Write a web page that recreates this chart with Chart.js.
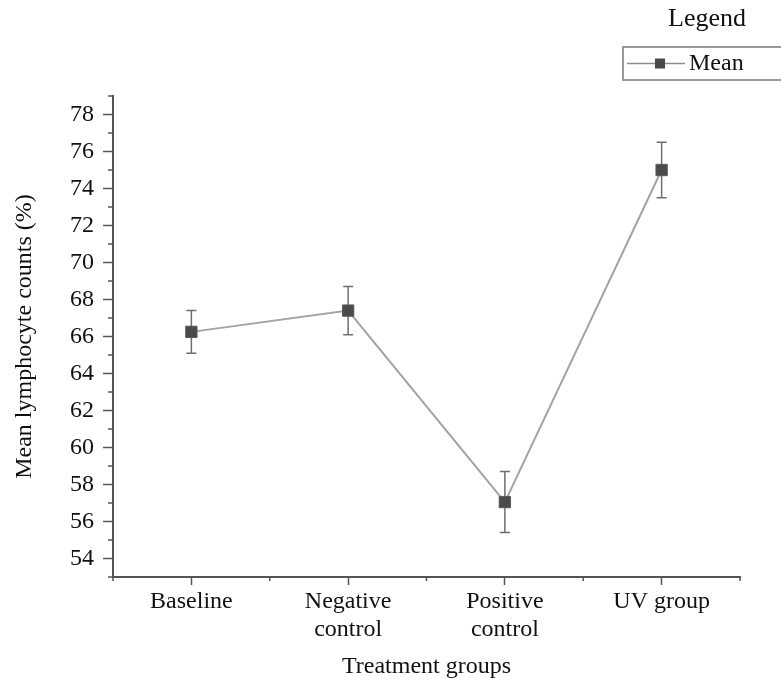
<!DOCTYPE html>
<html>
<head>
<meta charset="utf-8">
<script src="https://cdn.jsdelivr.net/npm/chart.js@4"></script>
<style>
  html, body { margin: 0; padding: 0; background: #fff; }
  #wrap { width: 781px; height: 684px; }
</style>
</head>
<body>
<div id="wrap"><canvas id="grafico"></canvas></div>
<script>
const grupos = [['Baseline'], ['Negative', 'control'], ['Positive', 'control'], ['UV group']];
const medias = [66.25, 67.4, 57.05, 75.0];
const errores = [1.15, 1.3, 1.65, 1.5];
const ticksY = [54, 56, 58, 60, 62, 64, 66, 68, 70, 72, 74, 76, 78];
const yMin = 53;
const yMax = 79;

const fuente = '"Liberation Serif", "Times New Roman", serif';

// barras de error, ticks menores y leyenda
const extras = {
  id: 'extras',
  beforeDatasetsDraw(chart) {
    const { ctx } = chart;
    const x = chart.scales.x;
    const y = chart.scales.y;
    ctx.save();
    ctx.strokeStyle = '#6e6e6e';
    ctx.lineWidth = 1.5;
    medias.forEach((m, i) => {
      const px = x.getPixelForValue(i);
      const top = y.getPixelForValue(m + errores[i]);
      const bot = y.getPixelForValue(m - errores[i]);
      ctx.beginPath();
      ctx.moveTo(px, top); ctx.lineTo(px, bot);
      ctx.moveTo(px - 5, top); ctx.lineTo(px + 5, top);
      ctx.moveTo(px - 5, bot); ctx.lineTo(px + 5, bot);
      ctx.stroke();
    });
    ctx.restore();
  },
  afterDraw(chart) {
    const { ctx } = chart;
    const x = chart.scales.x;
    const y = chart.scales.y;
    const area = chart.chartArea;
    ctx.save();
    ctx.strokeStyle = '#555';
    ctx.lineWidth = 1.5;
    ctx.beginPath();
    for (let v = yMin; v <= yMax; v += 2) {
      const py = y.getPixelForValue(v);
      ctx.moveTo(area.left, py); ctx.lineTo(area.left - 5, py);
    }
    for (let i = -0.5; i < grupos.length; i += 1) {
      const px = x.getPixelForValue(i);
      ctx.moveTo(px, area.bottom); ctx.lineTo(px, area.bottom + 4);
    }
    ctx.stroke();

    const W = chart.width;
    ctx.fillStyle = '#111';
    ctx.font = '26px ' + fuente;
    ctx.textAlign = 'center';
    ctx.textBaseline = 'middle';
    ctx.fillText('Legend', W - 74, 19);
    ctx.strokeStyle = '#999';
    ctx.lineWidth = 2;
    ctx.strokeRect(W - 158, 47, 200, 33);
    ctx.strokeStyle = '#8a8a8a';
    ctx.lineWidth = 1.5;
    ctx.beginPath();
    ctx.moveTo(W - 154, 63.5); ctx.lineTo(W - 96, 63.5);
    ctx.stroke();
    ctx.fillStyle = '#4a4a4a';
    ctx.fillRect(W - 126, 58.5, 10, 10);
    ctx.fillStyle = '#111';
    ctx.textAlign = 'left';
    ctx.font = '24px ' + fuente;
    ctx.fillText('Mean', W - 92, 64);
    ctx.restore();
  }
};

new Chart(document.getElementById('grafico'), {
  type: 'line',
  data: {
    labels: grupos,
    datasets: [{
      label: 'Mean',
      data: medias,
      borderColor: '#a3a3a3',
      borderWidth: 2,
      pointStyle: 'rect',
      pointRadius: 8,
      pointHoverRadius: 8,
      pointBackgroundColor: '#4a4a4a',
      pointBorderColor: '#5a5a5a',
      pointBorderWidth: 1,
      tension: 0
    }]
  },
  options: {
    responsive: true,
    maintainAspectRatio: false,
    animation: false,
    layout: { padding: { top: 96, right: 41, left: 0, bottom: 0 } },
    plugins: {
      legend: { display: false },
      tooltip: { enabled: false }
    },
    scales: {
      x: {
        type: 'category',
        offset: true,
        afterFit: (s) => { s.height = 107; },
        grid: { display: true, drawOnChartArea: false, offset: false, tickLength: 8, tickColor: '#555', tickWidth: 1.5 },
        border: { display: true, color: '#555', width: 2 },
        ticks: { color: '#111', font: { family: fuente, size: 24, lineHeight: 1.15 }, padding: 3, maxRotation: 0, autoSkip: false },
        title: { display: true, text: 'Treatment groups', color: '#111', font: { family: fuente, size: 24 }, padding: { top: 0, bottom: 3 } }
      },
      y: {
        min: yMin,
        max: yMax,
        afterFit: (s) => { s.width = 113; },
        afterBuildTicks: (s) => { s.ticks = ticksY.map(v => ({ value: v })); },
        grid: { display: true, drawOnChartArea: false, tickLength: 10, tickColor: '#555', tickWidth: 1.5 },
        border: { display: true, color: '#555', width: 2 },
        ticks: { color: '#111', font: { family: fuente, size: 24 }, padding: 9 },
        title: { display: true, text: 'Mean lymphocyte counts (%)', color: '#111', font: { family: fuente, size: 24 }, padding: { top: 10, bottom: 0 } }
      }
    }
  },
  plugins: [extras]
});
</script>
</body>
</html>
